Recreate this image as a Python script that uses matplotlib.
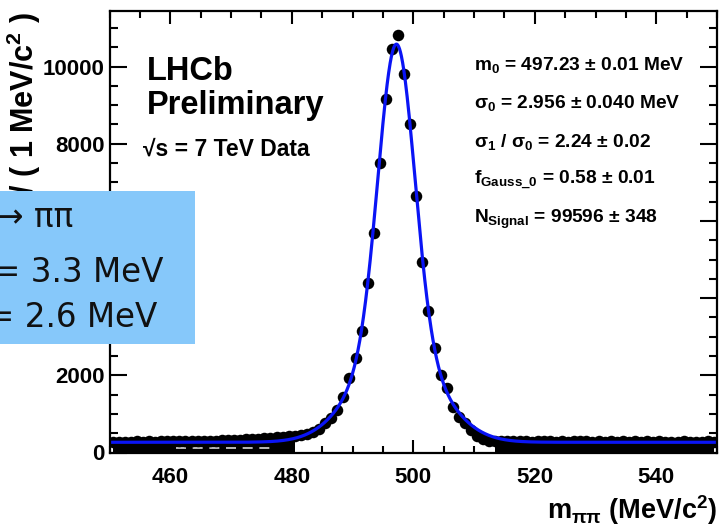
import numpy as np
import matplotlib
matplotlib.use("Agg")
import matplotlib.pyplot as plt
from matplotlib.patches import Rectangle
from matplotlib.ticker import MultipleLocator, FixedLocator

plt.rcParams['font.family'] = ['Liberation Sans', 'DejaVu Sans']
plt.rcParams['font.weight'] = 'bold'
plt.rcParams['mathtext.fontset'] = 'custom'
plt.rcParams['mathtext.rm'] = 'Liberation Sans:bold'
plt.rcParams['mathtext.it'] = 'Liberation Sans:bold'
plt.rcParams['mathtext.bf'] = 'Liberation Sans:bold'
plt.rcParams['mathtext.sf'] = 'Liberation Sans:bold'

# ---------------- data ----------------
bin_centers = np.arange(450.5, 550.0, 1.0)   # 1 MeV bins, 450-550
counts = [
    # 450.5 - 459.5
    282, 276, 285, 279, 288, 281, 290, 284, 292, 287,
    # 460.5 - 469.5
    293, 289, 297, 294, 301, 298, 306, 310, 315, 322,
    # 470.5 - 479.5
    328, 333, 340, 348, 356, 366, 378, 392, 408, 425,
    # 480.5 - 489.5
    440, 455, 485, 540, 620, 757, 905, 1102, 1446, 1923,
    # 490.5 - 499.5
    2442, 3157, 4386, 5682, 7512, 9163, 10451, 10822, 9811, 8515,
    # 500.5 - 509.5
    6640, 4946, 3675, 2701, 2009, 1680, 1187, 928, 757, 583,
    # 510.5 - 519.5
    428, 340, 305, 298, 292, 300, 287, 295, 290, 284,
    # 520.5 - 529.5
    293, 288, 296, 285, 291, 283, 290, 286, 294, 281,
    # 530.5 - 539.5
    288, 284, 292, 280, 287, 283, 290, 279, 286, 282,
    # 540.5 - 549.5
    289, 278, 285, 281, 288, 277, 284, 280, 286, 279,
]
counts = np.array(counts, dtype=float)

# fit parameters shown on the plot
m0 = 497.23
sigma0 = 2.956
sigma_ratio = 2.24
f_gauss0 = 0.58
n_signal = 99596
bkg_per_bin = 265          # flat background level (estimated)

# tail regions where the data band is drawn solid
tail_low_max = 481.0
tail_high_min = 513.0
bkg_dash_range = [461, 477]
bkg_dash_level = 110

x_ticks = [460, 480, 500, 520, 540]
y_ticks = [0, 2000, 4000, 6000, 8000, 10000]

param_lines = [
    r"m$_{0}$ = 497.23 ± 0.01 MeV",
    r"σ$_{0}$ = 2.956 ± 0.040 MeV",
    r"σ$_{1}$ / σ$_{0}$ = 2.24 ± 0.02",
    r"f$_{\mathrm{Gauss\_0}}$ = 0.58 ± 0.01",
    r"N$_{\mathrm{Signal}}$ = 99596 ± 348",
]
box_lines = ["K  → ππ", "σ = 3.3 MeV", "σ = 2.6 MeV"]

# ---------------- figure ----------------
W, H = 722, 527
fig = plt.figure(figsize=(W / 100, H / 100), dpi=100)

def fx(px):
    return px / W

def fy(py):
    return 1 - py / H

ax_l, ax_r, ax_t, ax_b = 109.5, 717, 11, 452.5
ax = fig.add_axes([fx(ax_l), fy(ax_b), (ax_r - ax_l) / W, (ax_b - ax_t) / H])
ax.set_xlim(450, 550)
ax.set_ylim(0, 11440)

# solid band of overlapping tail points
mask = (bin_centers < tail_low_max) | (bin_centers > tail_high_min)
ax.fill_between(bin_centers, 0, counts, where=mask, step='mid',
                color='black', lw=0, zorder=2.0)
ax.plot(bkg_dash_range, [bkg_dash_level] * 2, color='#d8d8d8', lw=1.2,
        ls=(0, (6, 4)), zorder=2.05)

# data points
ax.plot(bin_centers, counts, 'o', color='black', ms=8.3, mew=0, zorder=2.1)

# fit curve from the displayed fit parameters
xf = np.linspace(450, 550, 2001)
sigma1 = sigma0 * sigma_ratio
g0 = np.exp(-0.5 * ((xf - m0) / sigma0) ** 2) / (np.sqrt(2 * np.pi) * sigma0)
g1 = np.exp(-0.5 * ((xf - m0) / sigma1) ** 2) / (np.sqrt(2 * np.pi) * sigma1)
yf = n_signal * (f_gauss0 * g0 + (1 - f_gauss0) * g1) + bkg_per_bin
ax.plot(xf, yf, color='#0a14f5', lw=2.3, zorder=2.2)

# axes style
for s in ax.spines.values():
    s.set_linewidth(1.6)
ax.xaxis.set_major_locator(FixedLocator(x_ticks))
ax.xaxis.set_minor_locator(MultipleLocator(5))
ax.yaxis.set_major_locator(FixedLocator(y_ticks))
ax.yaxis.set_minor_locator(MultipleLocator(500))
ax.tick_params(which='both', direction='in', top=True, right=True, width=1.5)
ax.tick_params(axis='x', which='major', length=9.5, pad=10.5)
ax.tick_params(axis='x', which='minor', length=5)
ax.tick_params(axis='y', which='major', length=12.5, pad=3.5)
ax.tick_params(axis='y', which='minor', length=6)
ax.set_xticklabels([str(t) for t in x_ticks], fontsize=16, fontweight='bold')
ax.set_yticklabels([str(t) for t in y_ticks], fontsize=16, fontweight='bold')

# axis titles
fig.text(fx(717), fy(519), r"m$_{\pi\pi}$ (MeV/c$^{2}$)", ha='right', va='baseline',
         fontsize=19.5, fontweight='bold')
fig.text(fx(34), fy(12), r"Events / ( 1 MeV/c$^{2}$ )", rotation=90,
         rotation_mode='anchor', ha='right', va='baseline',
         fontsize=22, fontweight='bold', zorder=1)

# LHCb labels
fig.text(fx(147), fy(80), "LHCb", ha='left', va='baseline', fontsize=23.5, fontweight='bold')
fig.text(fx(147), fy(114), "Preliminary", ha='left', va='baseline', fontsize=23.5,
         fontweight='bold')
fig.text(fx(143), fy(156), "√s = 7 TeV Data", ha='left', va='baseline', fontsize=16.5,
         fontweight='bold')

# fit parameters
param_baselines = [70, 108.5, 147.5, 185, 223]
for txt, yb in zip(param_lines, param_baselines):
    fig.text(fx(474), fy(yb), txt, ha='left', va='baseline', fontsize=13.8,
             fontweight='bold')

# light-blue overlay box (cut at the left edge)
fig.add_artist(Rectangle((0, fy(344)), fx(195), (344 - 191) / H,
                         transform=fig.transFigure, facecolor='#86C8FA',
                         edgecolor='none', zorder=3))
box_specs = [(73, 227), (163, 282), (157, 327)]
for txt, (xr, yb) in zip(box_lines, box_specs):
    fig.text(fx(xr), fy(yb), txt, ha='right', va='baseline', fontsize=23.5,
             family='DejaVu Sans', fontweight='normal', color='#111111', zorder=4)

fig.savefig("out.png", dpi=100)
